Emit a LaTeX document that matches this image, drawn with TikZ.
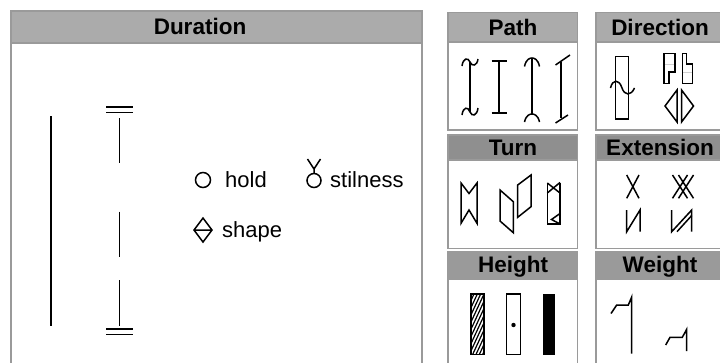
\documentclass[tikz,border=0pt]{standalone}
\usepackage{fontspec}
\setmainfont{Liberation Sans}
\definecolor{bordergray}{HTML}{9A9A9A}
\definecolor{hdrA}{HTML}{ABABAB}
\definecolor{hdrB}{HTML}{8F8F8F}
\definecolor{hdrC}{HTML}{9A9A9A}
\definecolor{faint}{HTML}{D0D0D0}
\begin{document}
\begin{tikzpicture}[x=1pt,y=-1pt,
  pnl/.style={draw=bordergray,line width=1.8pt,fill=white},
  hdr/.style={draw=bordergray,line width=1.8pt,fill=#1},
  sym/.style={line width=1.5pt,line join=miter},
  htxt/.style={font=\bfseries\fontsize{22.5}{26}\selectfont,anchor=base,inner sep=0pt},
  btxt/.style={font=\fontsize{22}{26}\selectfont,anchor=base west,inner sep=0pt}]
\useasboundingbox (0,0) rectangle (720,362);
\fill[white] (0,0) rectangle (720,362);

% ---------- Duration panel ----------
\draw[pnl] (11,43) rectangle (422,372);
\draw[hdr=hdrA] (11,11) rectangle (422,43);
\node[htxt] (tdur) at (200,34.5) {Duration};

\draw[sym] (51,116) -- (51,326);
\draw[sym] (106,107) -- (133,107) (106,112.5) -- (133,112.5);
\draw[sym] (119.5,118) -- (119.5,163);
\draw[sym] (119.5,211.5) -- (119.5,257);
\draw[sym] (119.5,280) -- (119.5,326);
\draw[sym] (106,329) -- (133,329) (106,334.5) -- (133,334.5);

\draw[sym] (203,180) circle[radius=7.5pt];
\node[btxt] (thold) at (225,187.5) {hold};
\draw[sym] (314,180.5) circle[radius=7pt];
\draw[sym] (307.5,159) -- (314,169) -- (320.5,159) (314,169) -- (314,173.5);
\node[btxt] (tstil) at (330,187.5) {stilness};
\draw[sym] (203,218) -- (212,230) -- (203,242) -- (194,230) -- cycle (194,230) -- (212,230);
\node[btxt] (tshape) at (222,237.5) {shape};

% ---------- right panels ----------
\draw[pnl] (448,42) rectangle (577.5,130);
\draw[pnl] (596,42) rectangle (727,130);
\draw[hdr=hdrA] (448,12.5) rectangle (577.5,42);
\draw[hdr=hdrA] (596,12.5) rectangle (727,42);
\node[htxt] (tpath) at (513,35) {Path};
\node[htxt] (tdir) at (660,35) {Direction};

\draw[pnl] (448,160) rectangle (577.5,248.5);
\draw[pnl] (596,160) rectangle (727,248.5);
\draw[hdr=hdrB] (448,135) rectangle (577.5,160);
\draw[hdr=hdrB] (596,135) rectangle (727,160);
\node[htxt] (tturn) at (513,155.5) {Turn};
\node[htxt] (text) at (660,155.5) {Extension};

\draw[pnl] (448,279) rectangle (577.5,372);
\draw[pnl] (596,279) rectangle (727,372);
\draw[hdr=hdrC] (448,252) rectangle (577.5,279);
\draw[hdr=hdrC] (596,252) rectangle (727,279);
\node[htxt] (theight) at (513,272.5) {Height};
\node[htxt] (tweight) at (660,272.5) {Weight};

% Path symbols
\draw[sym] (470,62) -- (470,112);
\draw[sym] (462,66) .. controls (463,58) and (468,57) .. (470,62) .. controls (472,67) and (477,66) .. (478,59);
\draw[sym] (462,115) .. controls (463,107) and (468,106) .. (470,112) .. controls (472,117) and (477,116) .. (478,108);
\draw[sym] (499,61) -- (499,113) (491.5,61) -- (506.5,61) (491.5,113) -- (506.5,113);
\draw[sym] (532,58) -- (532,114);
\draw[sym] (524.5,66.5) .. controls (526,59) and (530,58) .. (532,58) .. controls (534,58) and (538,59) .. (539.5,66.5);
\draw[sym] (524.5,122) .. controls (526,115) and (530,114) .. (532,114) .. controls (534,114) and (538,115) .. (539.5,122);
\draw[sym] (561,61.5) -- (561,118);
\draw[sym] (555.5,65) -- (570,55);
\draw[sym] (555.5,123) -- (568,115);

% Direction symbols
\draw[sym] (615.7,56.7) rectangle (628.3,119);
\draw[sym] (610.5,88) .. controls (612.5,79) and (619,79) .. (621.8,87.5) .. controls (624.5,96) and (631,96) .. (634.5,88);
\draw[faint,line width=0.8pt] (664,64.3) -- (675,64.3) (682.3,72.3) -- (692.7,72.3);
\draw[sym] (664,53.3) -- (675,53.3) -- (675,72) -- (669,72) -- (669,83.3) -- (664,83.3) -- cycle;
\draw[sym] (682.3,53.3) -- (686.7,53.3) -- (686.7,64) -- (692.7,64) -- (692.7,83.3) -- (682.3,83.3) -- cycle;
\draw[sym] (665,106) -- (677,90) -- (677,122) -- cycle;
\draw[sym] (693.5,106) -- (681.5,90) -- (681.5,122) -- cycle;

% Turn symbols
\draw[sym] (461,183) -- (469,193.5) -- (477,183) -- (477,223.3) -- (469,210) -- (461,223.3) -- cycle;
\draw[sym] (500,190) -- (513.3,201.7) -- (513.3,232.7) -- (500,221) -- cycle;
\draw[sym] (517.7,185) -- (531,175) -- (531,206.7) -- (517.7,217.3) -- cycle;
\draw[sym] (547.3,183) -- (547.3,224) -- (560,224) -- (560,182.5);
\draw[sym] (547.3,183) -- (560,193) (560,182.5) -- (547.3,193);
\draw[sym] (560,213.5) -- (551.5,219.5) -- (560,224);

% Extension symbols
\draw[sym] (626.7,175) -- (639,198.3) (639,175) -- (626.7,198.3);
\draw[sym] (672.5,175) -- (687.5,198.3) (678.5,175) -- (693.5,198.3)
           (687.5,175) -- (672.5,198.3) (693.5,175) -- (678.5,198.3);
\draw[sym] (626.7,210) -- (626.7,231.7) -- (640,210) -- (640,231.7);
\draw[sym] (671.7,210) -- (671.7,231.7) -- (691.7,210) -- (691.7,231.7);
\draw[sym] (677,231.7) -- (691.7,215.5);

% Height symbols
\begin{scope}
  \clip (471,294) rectangle (484,354.5);
  \foreach \i in {-4,...,9} {
    \draw[line width=1.2pt] (471,294+\i*7.2+28) -- (484,294+\i*7.2);
  }
\end{scope}
\draw[sym] (471,294) rectangle (484,354.5);
\draw[sym] (506.7,294) rectangle (520.3,354.5);
\fill (513.5,325) circle[radius=2.2pt];
\fill (542.5,294) rectangle (555,354.5);

% Weight symbols
\draw[sym] (611,313.5) -- (616.7,305) -- (628.3,305) -- (631.7,297) -- (631.7,353.5);
\draw[sym] (665.7,345) -- (670,337.3) -- (682.3,337.3) -- (686.7,329.3) -- (686.7,351);
\end{tikzpicture}
\end{document}
